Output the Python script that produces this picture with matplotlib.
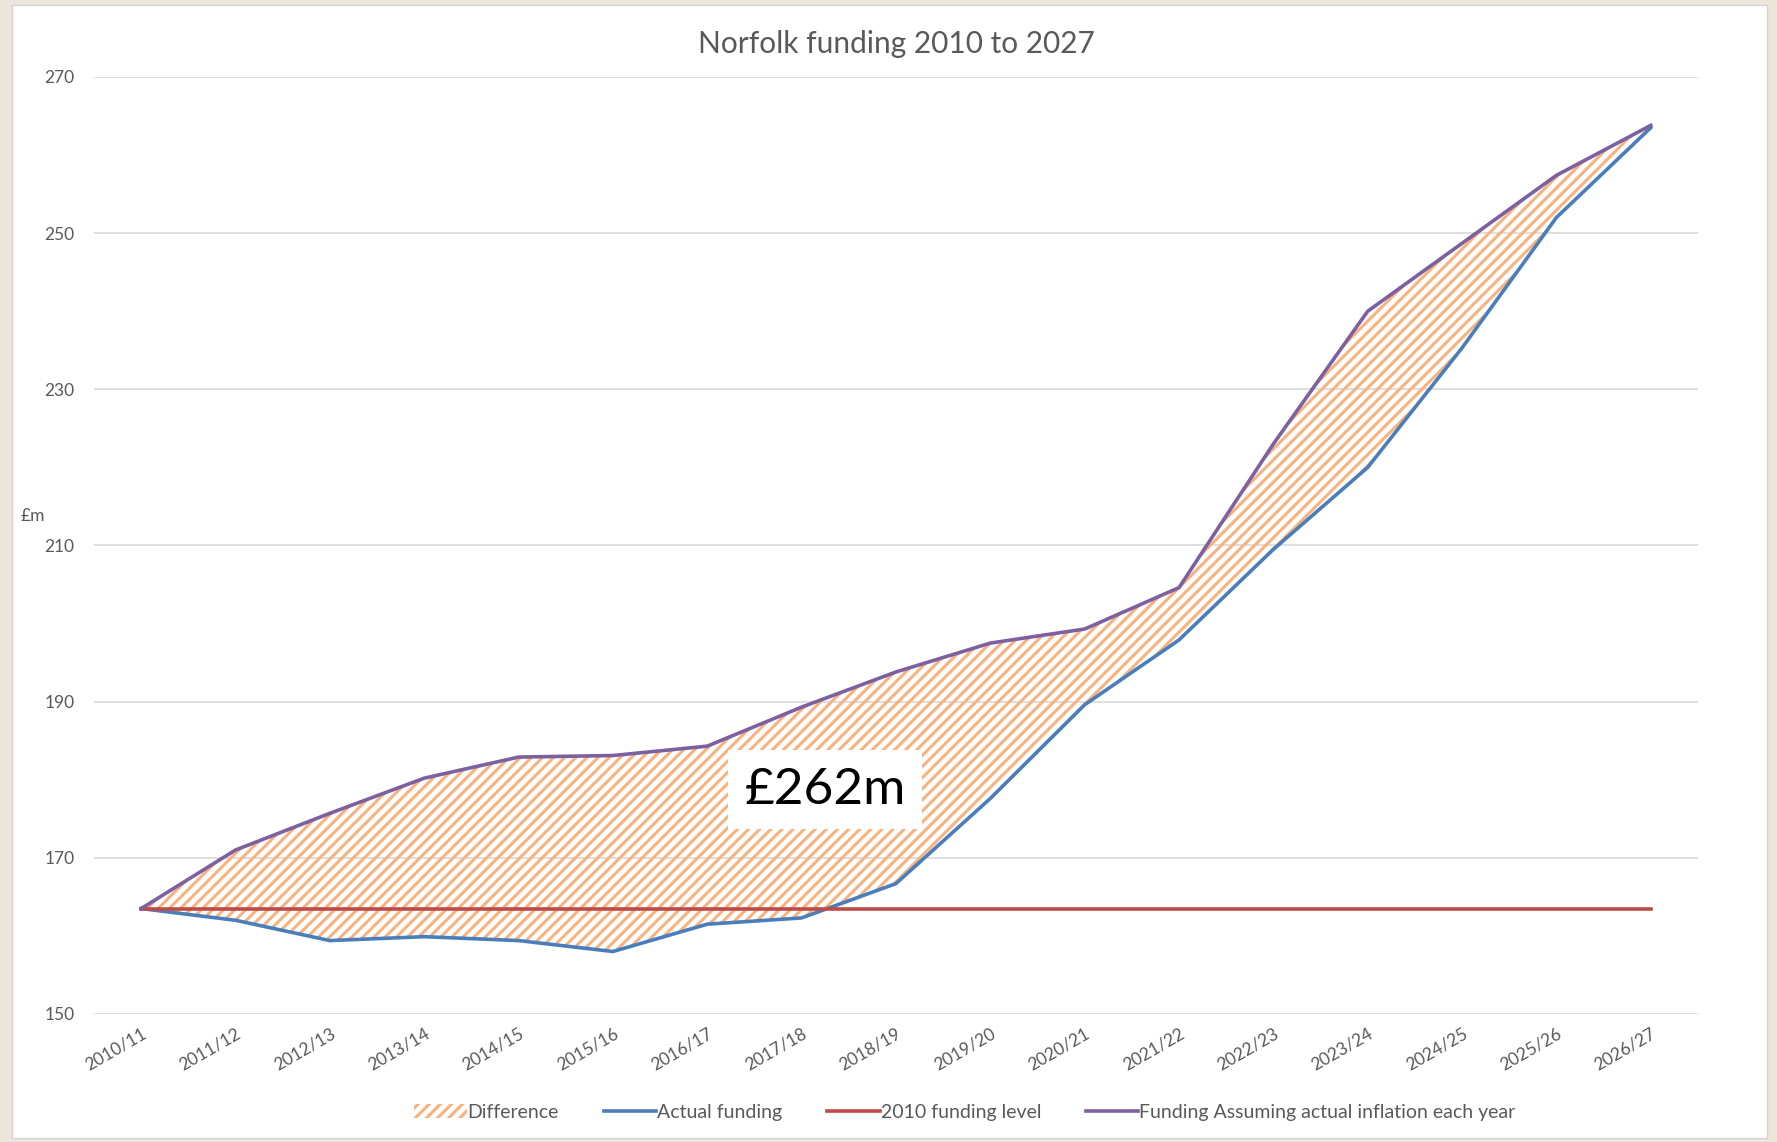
import matplotlib.pyplot as plt
from matplotlib.patches import Rectangle

plt.rcParams['font.family'] = ['Lato', 'DejaVu Sans']
plt.rcParams['hatch.linewidth'] = 2.2

years = ["2010/11", "2011/12", "2012/13", "2013/14", "2014/15", "2015/16",
         "2016/17", "2017/18", "2018/19", "2019/20", "2020/21", "2021/22",
         "2022/23", "2023/24", "2024/25", "2025/26", "2026/27"]
actual = [163.5, 162.0, 159.4, 159.9, 159.4, 158.0, 161.5, 162.3, 166.7,
          177.6, 189.6, 197.9, 209.5, 220.0, 235.3, 252.0, 263.5]
inflation = [163.5, 171.0, 175.7, 180.2, 182.9, 183.1, 184.3, 189.3, 193.8,
             197.5, 199.3, 204.6, 223.0, 240.0, 248.7, 257.4, 263.8]
level_2010 = 163.5
gap_label = "£262m"

grey = "#595959"

fig = plt.figure(figsize=(17.77, 11.42), dpi=100)
fig.patch.set_facecolor("#ebe5da")
fig.add_artist(Rectangle((0.0068, 0.0035), 0.9876, 0.992, transform=fig.transFigure,
                         facecolor="white", edgecolor="#d4d4d4", lw=1, zorder=0))

ax = fig.add_axes([0.0529, 0.1121, 0.9026, 0.8205])
ax.set_facecolor("none")

x = list(range(len(years)))
ax.fill_between(x, actual, inflation, facecolor="none", edgecolor="#f8b280",
                hatch="///", linewidth=0, label="Difference", zorder=2)
ax.plot(x, actual, color="#4a7ebb", lw=2.6, label="Actual funding", zorder=3)
ax.plot(x, [level_2010] * len(x), color="#be4b48", lw=2.6,
        label="2010 funding level", zorder=3)
ax.plot(x, inflation, color="#7d60a0", lw=2.6,
        label="Funding Assuming actual inflation each year", zorder=4)

ax.text(7.25, 178.7, gap_label, fontsize=37, ha="center", va="center", color="black",
        bbox=dict(facecolor="white", edgecolor="none", pad=12), zorder=2.5)

ax.set_xlim(-0.5, len(years) - 0.5)
ax.set_ylim(150, 270)
ax.set_yticks(range(150, 271, 20))
ax.set_xticks(x)
ax.set_xticklabels(years, rotation=30, ha="right", rotation_mode="anchor")
ax.tick_params(axis="both", length=0, labelsize=12.5, labelcolor=grey)
ax.tick_params(axis="y", pad=14)
ax.tick_params(axis="x", pad=8)
ax.grid(axis="y", color="#d9d9d9", lw=1.2)
ax.set_axisbelow(True)
for s in ax.spines.values():
    s.set_visible(False)

ax.set_title("Norfolk funding 2010 to 2027", fontsize=21.5, color=grey, pad=17)
fig.text(0.0113, 0.548, "£m", fontsize=12.5, color=grey, ha="left", va="center")

fig.legend(loc="center", bbox_to_anchor=(0.543, 0.026), ncol=4, frameon=False,
           fontsize=14, handlelength=2.7, handletextpad=0.05, columnspacing=2.3,
           labelcolor=grey)

fig.savefig("out.png", dpi=100, facecolor=fig.get_facecolor())
